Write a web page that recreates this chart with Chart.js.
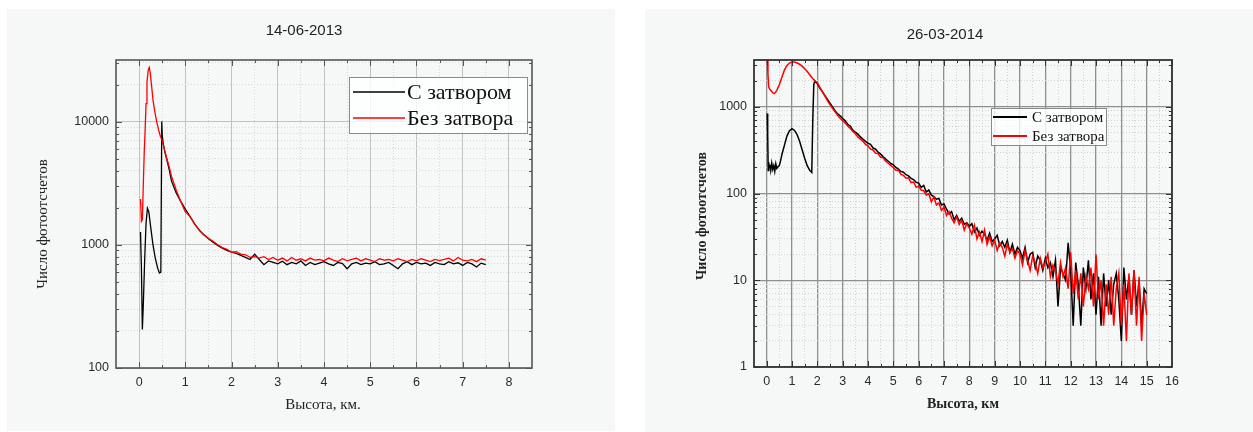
<!DOCTYPE html>
<html>
<head>
<meta charset="utf-8">
<script src="https://cdn.jsdelivr.net/npm/chart.js@4.4.1/dist/chart.umd.min.js"></script>
<style>
  body { margin: 0; background: #fff; width: 1253px; height: 432px; position: relative; overflow: hidden; }
  .panel { position: absolute; background: #f6f8f8; }
  canvas { display: block; }
</style>
</head>
<body>
<div class="panel" style="left:7px;top:9px;width:608px;height:422px"><canvas id="chart2013" width="608" height="422"></canvas></div>
<div class="panel" style="left:645px;top:9px;width:608px;height:423px"><canvas id="chart2014" width="608" height="423"></canvas></div>
<script>
// ---- 14-06-2013 ----
const leftSteps = [1.0, 1.1, 1.2, 1.3, 1.4, 1.5, 1.6, 1.7, 1.8, 1.9,
  2.0, 2.1, 2.2, 2.3, 2.4, 2.5, 2.6, 2.7, 2.8, 2.9,
  3.0, 3.1, 3.2, 3.3, 3.4, 3.5, 3.6, 3.7, 3.8, 3.9,
  4.0, 4.1, 4.2, 4.3, 4.4, 4.5, 4.6, 4.7, 4.8, 4.9,
  5.0, 5.1, 5.2, 5.3, 5.4, 5.5, 5.6, 5.7, 5.8, 5.9,
  6.0, 6.1, 6.2, 6.3, 6.4, 6.5, 6.6, 6.7, 6.8, 6.9,
  7.0, 7.1, 7.2, 7.3, 7.4, 7.5];
const leftBlackX = [0.03, 0.05, 0.07, 0.09, 0.12, 0.15, 0.18, 0.21, 0.25, 0.3, 0.35, 0.4,
  0.44, 0.47, 0.49, 0.5, 0.52, 0.56, 0.6, 0.65, 0.7, 0.8, 0.9, ...leftSteps];
const leftBlackY = [1270, 650, 205, 320, 750, 1500, 1980, 1850, 1400, 1000, 780, 650,
  590, 600, 10000, 7800, 6700, 5600, 4900, 4100, 3300, 2650, 2250,
  1950, 1700, 1480, 1320, 1210, 1120, 1050, 990, 940, 900,
  870, 850, 820, 790, 760, 840, 760, 690, 740, 720,
  700, 735, 690, 720, 700, 740, 680, 720, 690, 710,
  730, 700, 680, 720, 705, 640, 700, 720, 690, 710,
  700, 730, 690, 700, 720, 680, 640, 700, 730, 690,
  720, 700, 710, 680, 720, 700, 690, 730, 700, 715,
  680, 720, 700, 660, 710, 690];
const leftRedX = [0.03, 0.05, 0.07, 0.09, 0.11, 0.13, 0.15, 0.17, 0.2, 0.22, 0.24, 0.27,
  0.3, 0.34, 0.38, 0.42, 0.46, 0.5, 0.55, 0.6, 0.65, 0.7, 0.8, 0.9, ...leftSteps];
const leftRedY = [2350, 1550, 1600, 3000, 5500, 8500, 14000, 21000, 26500, 27500, 25000, 19500,
  15000, 12000, 10000, 8600, 7600, 7000, 5900, 5000, 4300, 3600, 2800, 2250,
  1850, 1700, 1480, 1310, 1200, 1130, 1070, 1000, 950, 920,
  870, 880, 840, 830, 790, 800, 780, 800, 760, 790,
  750, 780, 740, 790, 750, 770, 740, 780, 750, 760,
  740, 780, 750, 730, 770, 740, 760, 780, 740, 770,
  750, 730, 770, 750, 760, 740, 770, 750, 730, 760,
  740, 770, 750, 730, 760, 745, 760, 780, 740, 790,
  750, 740, 760, 730, 770, 750];
const leftXTicks = [0, 0.5, 1, 1.5, 2, 2.5, 3, 3.5, 4, 4.5, 5, 5.5, 6, 6.5, 7, 7.5, 8];
const leftYTicks = [100, 200, 300, 400, 500, 600, 700, 800, 900,
  1000, 2000, 3000, 4000, 5000, 6000, 7000, 8000, 9000, 10000, 20000, 30000];

// ---- 26-03-2014 ----
const rightSteps = [2.0, 2.1, 2.2, 2.3, 2.4, 2.5, 2.6, 2.7, 2.8, 2.9,
  3.0, 3.1, 3.2, 3.3, 3.4, 3.5, 3.6, 3.7, 3.8, 3.9,
  4.0, 4.1, 4.2, 4.3, 4.4, 4.5, 4.6, 4.7, 4.8, 4.9,
  5.0, 5.1, 5.2, 5.3, 5.4, 5.5, 5.6, 5.7, 5.8, 5.9,
  6.0, 6.1, 6.2, 6.3, 6.4, 6.5, 6.6, 6.7, 6.8, 6.9,
  7.0, 7.1, 7.2, 7.3, 7.4, 7.5, 7.6, 7.7, 7.8, 7.9,
  8.0, 8.1, 8.2, 8.3, 8.4, 8.5, 8.6, 8.7, 8.8, 8.9,
  9.0, 9.1, 9.2, 9.3, 9.4, 9.5, 9.6, 9.7, 9.8, 9.9,
  10.0, 10.1, 10.2, 10.3, 10.4, 10.5, 10.6, 10.7, 10.8, 10.9,
  11.0, 11.1, 11.2, 11.3, 11.4, 11.5, 11.6, 11.7, 11.8, 11.9,
  12.0, 12.1, 12.2, 12.3, 12.4, 12.5, 12.6, 12.7, 12.8, 12.9,
  13.0, 13.1, 13.2, 13.3, 13.4, 13.5, 13.6, 13.7, 13.8, 13.9,
  14.0, 14.1, 14.2, 14.3, 14.4, 14.5, 14.6, 14.7, 14.8, 14.9,
  15.0];
const rightBlackX = [0.02, 0.04, 0.06, 0.08, 0.1, 0.13, 0.16, 0.2, 0.24, 0.28, 0.32, 0.36,
  0.4, 0.45, 0.5, 0.55, 0.6, 0.7, 0.8, 0.9, 1.0, 1.1, 1.2, 1.3, 1.4, 1.5, 1.6, 1.7,
  1.78, 1.82, 1.86, 1.9, ...rightSteps];
const rightBlackY = [840, 500, 185, 230, 200, 215, 185, 225, 190, 210, 180, 220,
  195, 205, 210, 240, 280, 360, 460, 530, 560, 535, 480, 400, 320, 255, 210, 185,
  175, 700, 1800, 2000,
  1850, 1640, 1500, 1350, 1220, 1100, 1000, 900, 830, 790,
  735, 690, 630, 600, 540, 510, 485, 450, 425, 400,
  380, 370, 335, 325, 300, 285, 265, 250, 236, 222,
  215, 200, 192, 180, 176, 165, 160, 150, 145, 135,
  132, 118, 124, 104, 110, 96, 92, 86, 88, 74,
  76, 66, 58, 62, 50, 56, 48, 52, 44, 46,
  42, 45, 36, 40, 33, 37, 34, 29, 35, 28,
  30, 33, 25, 28, 24, 29, 21, 26, 20, 24,
  22, 18, 24, 16, 20, 21, 14, 19, 17, 13,
  18, 14, 16, 11, 17, 5, 14, 12, 10, 27,
  13, 3, 16, 9, 3, 14, 8, 17, 6, 12,
  4, 11, 3, 12, 5, 10, 4, 9, 12, 6,
  2, 14, 6, 11, 4, 13, 5, 10, 3, 8,
  7];
const rightRedX = [0.02, 0.05, 0.08, 0.12, 0.16, 0.2, 0.25, 0.3, 0.35, 0.4, 0.5, 0.6,
  0.7, 0.8, 0.9, 1.0, 1.1, 1.2, 1.3, 1.4, 1.5, 1.6, 1.7, 1.8, 1.9, ...rightSteps];
const rightRedY = [3600, 2400, 1700, 1600, 1550, 1500, 1450, 1420, 1470, 1550, 1800, 2200,
  2650, 3000, 3200, 3280, 3280, 3200, 3100, 2950, 2750, 2550, 2350, 2150, 2000,
  1900, 1680, 1490, 1330, 1180, 1060, 960, 880, 800, 740,
  690, 650, 600, 565, 520, 490, 450, 425, 400, 370,
  355, 325, 318, 292, 290, 262, 258, 236, 224, 210,
  200, 186, 186, 166, 162, 150, 152, 134, 136, 118,
  122, 110, 108, 96, 100, 80, 92, 74, 78, 64,
  70, 56, 62, 52, 46, 54, 44, 49, 38, 45,
  40, 34, 43, 30, 36, 28, 38, 26, 32, 25,
  29, 22, 27, 24, 19, 26, 21, 23, 18, 22,
  20, 15, 22, 17, 13, 19, 16, 12, 18, 14,
  16, 20, 11, 15, 13, 9, 16, 11, 14, 8,
  21, 7, 13, 6, 12, 5, 11, 8, 14, 5,
  20, 6, 10, 3, 9, 4, 11, 3, 8, 12,
  3, 9, 2, 12, 4, 13, 3, 11, 2, 7,
  4];
const rightXTicks = [0, 0.5, 1, 1.5, 2, 2.5, 3, 3.5, 4, 4.5, 5, 5.5, 6, 6.5, 7, 7.5, 8,
  8.5, 9, 9.5, 10, 10.5, 11, 11.5, 12, 12.5, 13, 13.5, 14, 14.5, 15, 15.5, 16];
const rightYTicks = [1, 2, 3, 4, 5, 6, 7, 8, 9, 10, 20, 30, 40, 50, 60, 70, 80, 90,
  100, 200, 300, 400, 500, 600, 700, 800, 900, 1000, 2000, 3000];

const seriesNames = ['С затвором', 'Без затвора'];

const pts = (xs, ys) => xs.map((x, i) => ({ x: x, y: ys[i] }));
const isMajX = v => Number.isInteger(v);
const isMajY = v => Math.abs(Math.log10(v) - Math.round(Math.log10(v))) < 1e-9;

// frame, inward ticks, titles and legend
const decor = {
  id: 'decor',
  afterDatasetsDraw(chart, args, o) {
    const { ctx, chartArea: a } = chart;
    const sx = chart.scales.x, sy = chart.scales.y;
    ctx.save();
    ctx.strokeStyle = o.axisColor;
    ctx.lineWidth = 1;
    ctx.beginPath();
    sx.ticks.forEach(t => {
      const p = Math.round(sx.getPixelForValue(t.value)) + 0.5;
      const len = isMajX(t.value) ? o.major : o.minor;
      ctx.moveTo(p, a.bottom); ctx.lineTo(p, a.bottom - len);
      ctx.moveTo(p, a.top); ctx.lineTo(p, a.top + len);
    });
    sy.ticks.forEach(t => {
      const p = Math.round(sy.getPixelForValue(t.value)) + 0.5;
      const len = isMajY(t.value) ? o.major : o.minor;
      ctx.moveTo(a.left, p); ctx.lineTo(a.left + len, p);
      ctx.moveTo(a.right, p); ctx.lineTo(a.right - len, p);
    });
    ctx.stroke();
    ctx.lineWidth = o.axisWidth;
    ctx.strokeRect(a.left, a.top, a.right - a.left, a.bottom - a.top);

    ctx.fillStyle = '#222';
    ctx.textAlign = 'center';
    ctx.textBaseline = 'middle';
    ctx.font = o.titleFont;
    ctx.fillText(o.title, o.titleAt[0], o.titleAt[1]);
    ctx.font = o.axisFont;
    ctx.fillText(o.xTitle, o.xTitleAt[0], o.xTitleAt[1]);
    ctx.save();
    ctx.translate(o.yTitleAt[0], o.yTitleAt[1]);
    ctx.rotate(-Math.PI / 2);
    ctx.fillText(o.yTitle, 0, 0);
    ctx.restore();

    const L = o.legend;
    ctx.fillStyle = 'rgba(255,255,255,0.8)';
    ctx.fillRect(L.x, L.y, L.w, L.h);
    ctx.strokeStyle = '#8a8a8a';
    ctx.lineWidth = 1;
    ctx.strokeRect(L.x + 0.5, L.y + 0.5, L.w, L.h);
    ctx.font = L.font;
    ctx.textAlign = 'left';
    seriesNames.forEach((name, i) => {
      const ds = chart.data.datasets.find(d => d.label === name);
      const yy = L.rows[i];
      ctx.strokeStyle = ds.borderColor;
      ctx.lineWidth = L.lineWidth;
      ctx.beginPath();
      ctx.moveTo(L.lineFrom, yy); ctx.lineTo(L.lineTo, yy);
      ctx.stroke();
      ctx.fillStyle = '#111';
      ctx.fillText(name, L.textX, yy + 1);
    });
    ctx.restore();
  }
};

function makeChart(id, c) {
  const tickFont = { family: 'Liberation Sans, Arial, sans-serif', size: 12.5 };
  return new Chart(document.getElementById(id), {
    type: 'line',
    data: {
      datasets: [
        { label: seriesNames[0], data: pts(c.blackX, c.blackY), borderColor: '#000000',
          borderWidth: c.lineWidth, pointRadius: 0, fill: false, order: 1 },
        { label: seriesNames[1], data: pts(c.redX, c.redY), borderColor: '#ff0000',
          borderWidth: c.lineWidth, pointRadius: 0, fill: false, order: 0 }
      ]
    },
    options: {
      responsive: false,
      animation: false,
      events: [],
      layout: { padding: { left: 0, top: c.area.top, right: c.width - c.area.right, bottom: 0 } },
      plugins: {
        legend: { display: false },
        tooltip: { enabled: false },
        decor: c.decor
      },
      scales: {
        x: {
          type: 'linear',
          min: c.xMin,
          max: c.xMax,
          afterBuildTicks: s => { s.ticks = c.xTicks.map(v => ({ value: v })); },
          afterFit: s => { s.height = c.height - c.area.bottom; s.paddingLeft = 0; s.paddingRight = 0; },
          ticks: { autoSkip: false, maxRotation: 0, padding: 7, color: '#2a2a2a', font: tickFont,
                   callback: v => isMajX(v) ? String(v) : '' },
          grid: { drawTicks: false,
                  color: ctx => ctx.tick && isMajX(ctx.tick.value) ? c.gridMajor : c.gridMinor,
                  lineWidth: ctx => ctx.tick && isMajX(ctx.tick.value) ? c.gridMajorWidth : 1 },
          border: { display: false,
                    dash: ctx => ctx.tick && !isMajX(ctx.tick.value) ? [1, 2] : [] }
        },
        y: {
          type: 'logarithmic',
          min: c.yMin,
          max: c.yMax,
          afterBuildTicks: s => { s.ticks = c.yTicks.map(v => ({ value: v })); },
          afterFit: s => { s.width = c.area.left; s.paddingTop = 0; s.paddingBottom = 0; },
          ticks: { autoSkip: false, padding: 7, color: '#2a2a2a', font: tickFont,
                   callback: v => isMajY(v) ? String(v) : '' },
          grid: { drawTicks: false,
                  color: ctx => ctx.tick && isMajY(ctx.tick.value) ? c.gridMajor : c.gridMinor,
                  lineWidth: ctx => ctx.tick && isMajY(ctx.tick.value) ? c.gridMajorWidth : 1 },
          border: { display: false,
                    dash: ctx => ctx.tick && !isMajY(ctx.tick.value) ? [1, 2] : [] }
        }
      }
    },
    plugins: [decor]
  });
}

makeChart('chart2013', {
  width: 608, height: 422,
  area: { left: 109, top: 51, right: 525, bottom: 359 },
  blackX: leftBlackX, blackY: leftBlackY, redX: leftRedX, redY: leftRedY,
  xMin: -0.5, xMax: 8.5, xTicks: leftXTicks,
  yMin: 100, yMax: 31623, yTicks: leftYTicks,
  lineWidth: 1.3,
  gridMajor: '#c2c2c2', gridMinor: '#d9d9d9', gridMajorWidth: 1,
  decor: {
    axisColor: '#555', axisWidth: 1.6, major: 6, minor: 3,
    title: '14-06-2013', titleAt: [297, 22], titleFont: '15px "Liberation Sans", Arial, sans-serif',
    xTitle: 'Высота, км.', xTitleAt: [316, 396],
    yTitle: 'Число фотоотсчетов', yTitleAt: [36, 215],
    axisFont: '15px "Liberation Serif", "Times New Roman", serif',
    legend: { x: 342, y: 68, w: 178, h: 56, rows: [83, 109], lineFrom: 346, lineTo: 398,
              textX: 400, lineWidth: 1.5, font: '22px "Liberation Serif", "Times New Roman", serif' }
  }
});

makeChart('chart2014', {
  width: 608, height: 423,
  area: { left: 109, top: 51, right: 527, bottom: 358 },
  blackX: rightBlackX, blackY: rightBlackY, redX: rightRedX, redY: rightRedY,
  xMin: -0.5, xMax: 16, xTicks: rightXTicks,
  yMin: 1, yMax: 3470, yTicks: rightYTicks,
  lineWidth: 1.5,
  gridMajor: '#8f8f8f', gridMinor: '#d2d2d2', gridMajorWidth: 1.3,
  decor: {
    axisColor: '#333', axisWidth: 1.8, major: 6, minor: 3,
    title: '26-03-2014', titleAt: [300, 26], titleFont: '15px "Liberation Sans", Arial, sans-serif',
    xTitle: 'Высота, км', xTitleAt: [318, 395],
    yTitle: 'Число фотоотсчетов', yTitleAt: [57, 207],
    axisFont: 'bold 14px "Liberation Serif", "Times New Roman", serif',
    legend: { x: 346, y: 99, w: 115, h: 37, rows: [108, 127], lineFrom: 348, lineTo: 382,
              textX: 387, lineWidth: 2, font: '15px "Liberation Serif", "Times New Roman", serif' }
  }
});
</script>
</body>
</html>
